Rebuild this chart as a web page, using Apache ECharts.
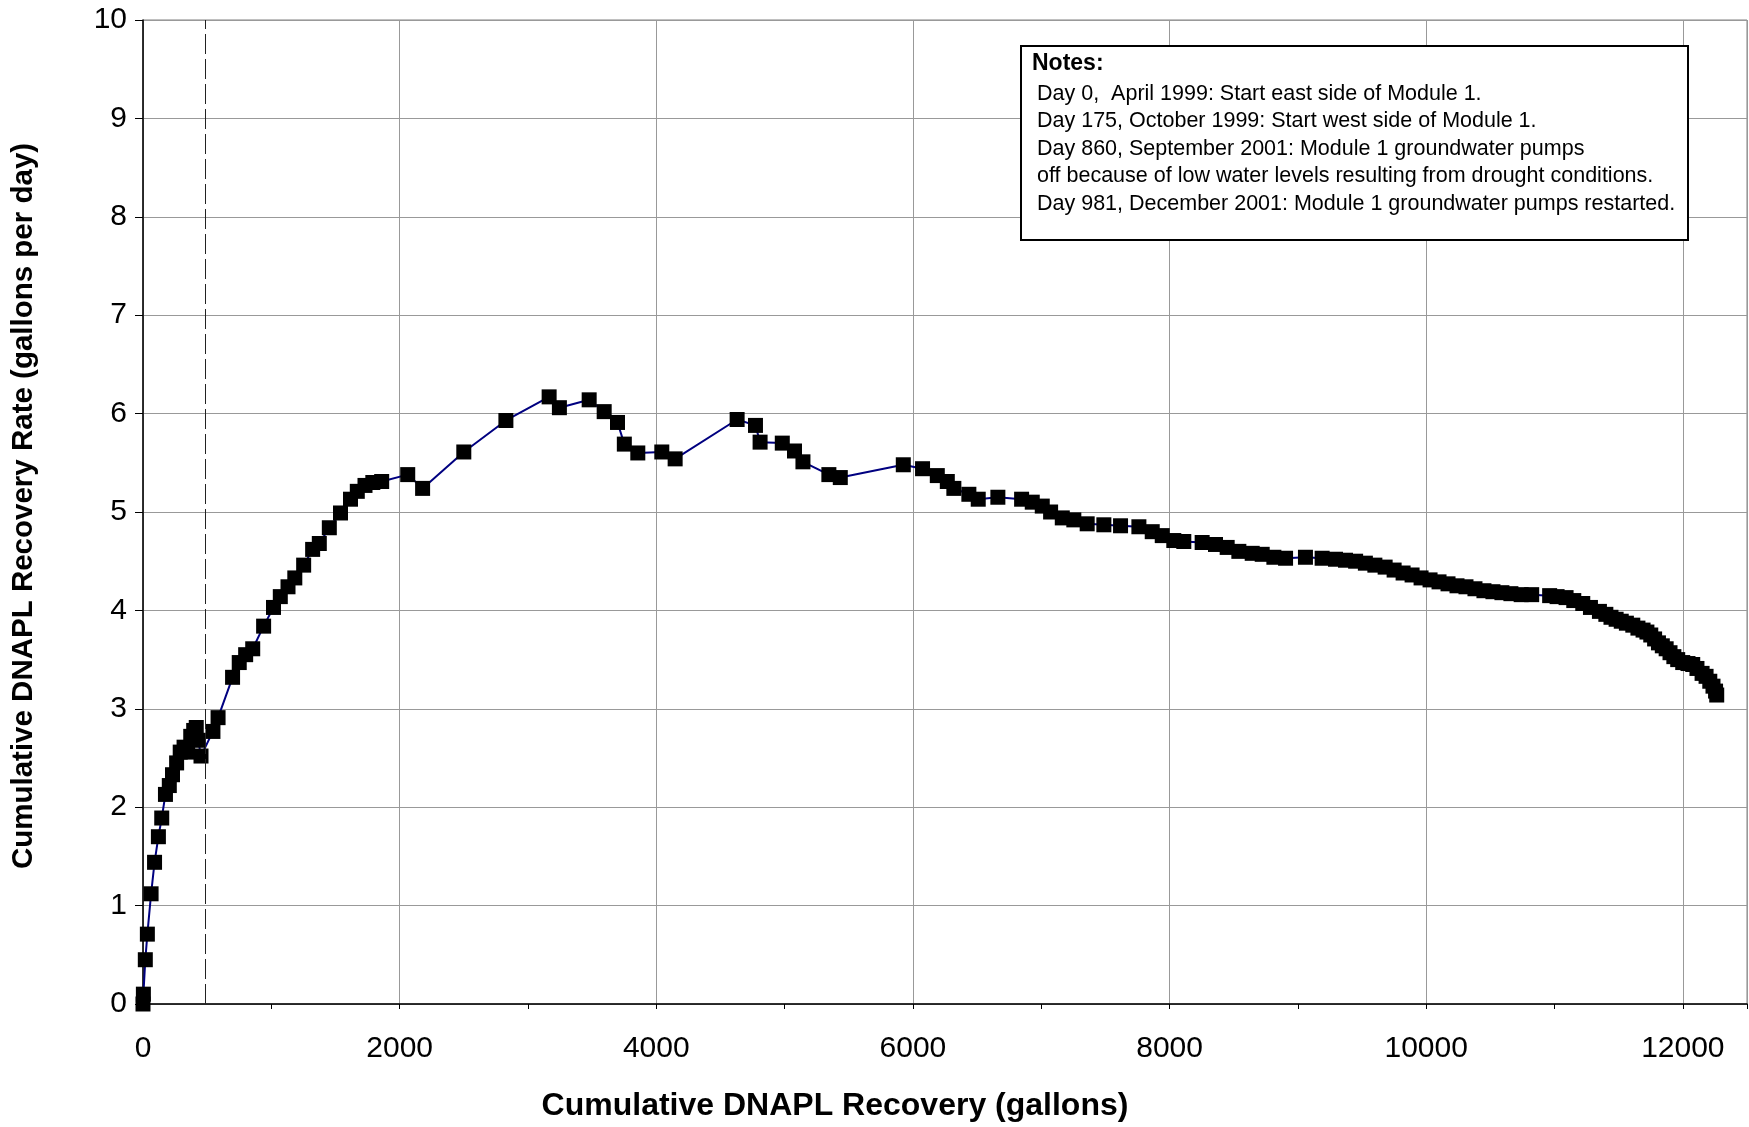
<!DOCTYPE html>
<html>
<head>
<meta charset="utf-8">
<script src="https://cdn.jsdelivr.net/npm/echarts@6/dist/echarts.min.js"></script>
<style>
html,body{margin:0;padding:0;background:#fff;}
#chart{width:1749px;height:1127px;}
</style>
</head>
<body>
<div id="chart"></div>
<script>
// ---- data ----
const cumulativeGallons = [
  0, 3, 18, 34, 63, 90, 120, 146, 175, 205,
  230, 262, 290, 320, 348, 372, 395, 415, 430, 452,
  545, 585, 698, 750, 800, 855, 940, 1017, 1070, 1130,
  1183, 1252, 1322, 1374, 1452, 1539, 1617, 1670, 1730, 1791,
  1860, 2063, 2179, 2500, 2828, 3165, 3245, 3477, 3594, 3698,
  3751, 3856, 4043, 4147, 4630, 4773, 4809, 4982, 5077, 5143,
  5345, 5434, 5925, 6075, 6190, 6268, 6319, 6436, 6509, 6662,
  6847, 6930, 7008, 7073, 7164, 7254, 7358, 7488, 7618, 7761,
  7865, 7943, 8033, 8111, 8254, 8358, 8449, 8540, 8644, 8722,
  8813, 8904, 9059, 9189, 9293, 9371, 9450, 9526, 9600, 9680,
  9750, 9820, 9890, 9960, 10030, 10100, 10170, 10240, 10310, 10380,
  10450, 10520, 10590, 10660, 10740, 10822, 10962, 11020, 11090, 11150,
  11220, 11280, 11350, 11400, 11440, 11480, 11520, 11560, 11610, 11650,
  11690, 11720, 11750, 11780, 11810, 11840, 11870, 11900, 11930, 11960,
  11999, 12040, 12077, 12110, 12150, 12181, 12210, 12235, 12255, 12264
];
const recoveryRate = [
  0.00, 0.10, 0.45, 0.71, 1.12, 1.44, 1.70, 1.89, 2.13, 2.22,
  2.33, 2.45, 2.56, 2.61, 2.56, 2.72, 2.78, 2.81, 2.68, 2.52,
  2.77, 2.91, 3.32, 3.47, 3.55, 3.61, 3.84, 4.03, 4.14, 4.24,
  4.33, 4.46, 4.62, 4.68, 4.84, 4.99, 5.13, 5.21, 5.27, 5.30,
  5.31, 5.38, 5.24, 5.61, 5.93, 6.17, 6.06, 6.14, 6.02, 5.91,
  5.69, 5.60, 5.61, 5.54, 5.94, 5.88, 5.71, 5.70, 5.62, 5.51,
  5.38, 5.35, 5.48, 5.44, 5.37, 5.31, 5.24, 5.18, 5.13, 5.15,
  5.13, 5.10, 5.06, 5.00, 4.94, 4.92, 4.88, 4.87, 4.86, 4.85,
  4.80, 4.76, 4.71, 4.70, 4.69, 4.67, 4.64, 4.60, 4.58, 4.57,
  4.54, 4.53, 4.54, 4.53, 4.52, 4.51, 4.50, 4.48, 4.46, 4.44,
  4.41, 4.38, 4.36, 4.33, 4.31, 4.29, 4.27, 4.25, 4.24, 4.22,
  4.20, 4.19, 4.18, 4.17, 4.16, 4.16, 4.15, 4.14, 4.13, 4.10,
  4.07, 4.03, 3.99, 3.96, 3.93, 3.91, 3.89, 3.87, 3.85, 3.82,
  3.80, 3.78, 3.75, 3.71, 3.67, 3.64, 3.61, 3.57, 3.53, 3.50,
  3.47, 3.46, 3.45, 3.41, 3.36, 3.33, 3.28, 3.23, 3.18, 3.14
];
const dashedLineGallons = 485;
const xAxisMin = 0, xAxisMax = 12500, xAxisStep = 2000;
const yAxisMin = 0, yAxisMax = 10, yAxisStep = 1;
const xAxisTitle = 'Cumulative DNAPL Recovery (gallons)';
const yAxisTitle = 'Cumulative DNAPL Recovery Rate (gallons per day)';
const notesTitle = 'Notes:';
const notesLines = [
  'Day 0,  April 1999: Start east side of Module 1.',
  'Day 175, October 1999: Start west side of Module 1.',
  'Day 860, September 2001: Module 1 groundwater pumps',
  'off because of low water levels resulting from drought conditions.',
  'Day 981, December 2001: Module 1 groundwater pumps restarted.'
];

// ---- chart ----
const FONT = '"Liberation Sans", Arial, Helvetica, sans-serif';
const points = cumulativeGallons.map((g, i) => [g, recoveryRate[i]]);

const notesGraphic = [
  { type: 'rect', x: 1021, y: 46, shape: { width: 667, height: 194 },
    style: { fill: '#fff', stroke: '#000', lineWidth: 2 }, z: 100 },
  { type: 'text', x: 1032, y: 64, z: 101,
    style: { text: notesTitle, fill: '#000', font: 'bold 23px ' + FONT, verticalAlign: 'middle' } }
].concat(notesLines.map((t, i) => ({
  type: 'text', x: 1037, y: 94 + i * 27.4, z: 101,
  style: { text: t, fill: '#000', font: '21.5px ' + FONT, verticalAlign: 'middle' }
})));

const chart = echarts.init(document.getElementById('chart'), null, { renderer: 'canvas' });
chart.setOption({
  animation: false,
  backgroundColor: '#fff',
  textStyle: { fontFamily: FONT },
  grid: { left: 143, right: 2, top: 20, bottom: 121, show: true, borderColor: '#808080', borderWidth: 1 },
  xAxis: {
    type: 'value', min: xAxisMin, max: xAxisMax, interval: xAxisStep,
    name: xAxisTitle, nameLocation: 'middle', nameGap: 86,
    nameTextStyle: { fontSize: 32, fontWeight: 'bold', color: '#000', fontFamily: FONT, padding: [0, 220, 0, 0] },
    axisLine: { show: true, lineStyle: { color: '#000', width: 1.5 } },
    axisTick: { show: true, length: 5, lineStyle: { color: '#000' } },
    minorTick: { show: true, splitNumber: 2, length: 5, lineStyle: { color: '#000' } },
    axisLabel: { fontSize: 30, color: '#000', margin: 30, fontFamily: FONT, showMaxLabel: false,
      formatter: v => (v % xAxisStep === 0 ? String(v) : '') },
    splitLine: { show: true, lineStyle: { color: '#999', width: 1 } }
  },
  yAxis: {
    type: 'value', min: yAxisMin, max: yAxisMax, interval: yAxisStep,
    name: yAxisTitle, nameLocation: 'middle', nameGap: 104,
    nameTextStyle: { fontSize: 29.5, fontWeight: 'bold', color: '#000', fontFamily: FONT, padding: [0, 0, 0, 12] },
    axisLine: { show: true, lineStyle: { color: '#000', width: 1.5 } },
    axisTick: { show: true, length: 8, lineStyle: { color: '#000' } },
    axisLabel: { fontSize: 30, color: '#000', margin: 16, fontFamily: FONT },
    splitLine: { show: true, lineStyle: { color: '#999', width: 1 } }
  },
  series: [{
    type: 'line',
    data: points,
    clip: false,
    symbol: 'rect',
    symbolSize: 15,
    itemStyle: { color: '#000', borderWidth: 0 },
    lineStyle: { color: '#000080', width: 2 },
    markLine: {
      silent: true,
      symbol: ['none', 'none'],
      label: { show: false },
      lineStyle: { color: '#222', width: 1, type: [20, 5] },
      data: [{ xAxis: dashedLineGallons }]
    }
  }],
  graphic: notesGraphic
});
</script>
</body>
</html>
